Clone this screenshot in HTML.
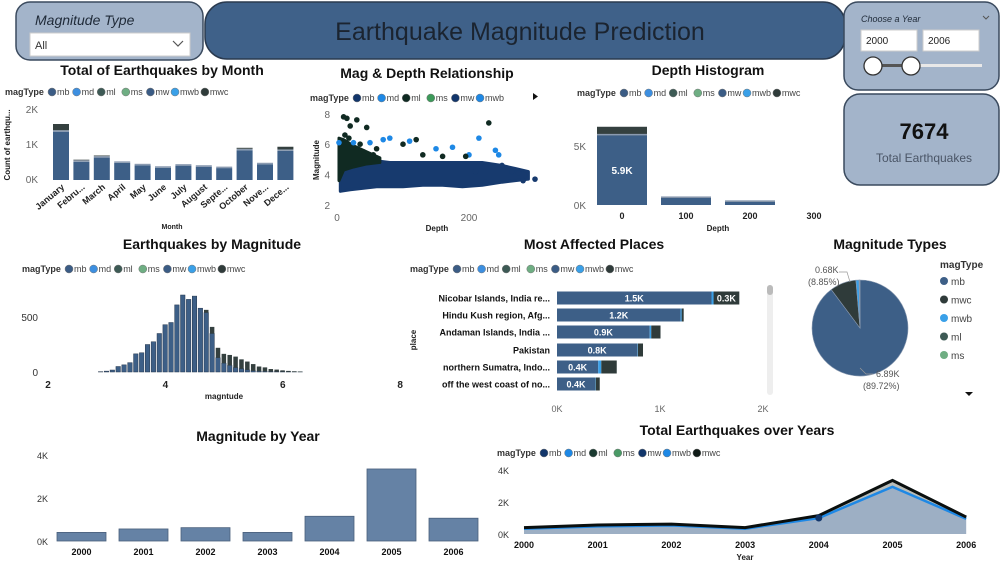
<!DOCTYPE html>
<html><head><meta charset="utf-8"><style>
html,body{margin:0;padding:0;background:#fff;}
svg{display:block;font-family:"Liberation Sans",sans-serif;}
</style></head><body>
<svg id="s" width="1000" height="563" viewBox="0 0 1000 563" xmlns="http://www.w3.org/2000/svg">
<rect x="0" y="0" width="1000" height="563" fill="#fff"/>
<g>
<rect x="16" y="2" width="187" height="58" rx="14" fill="#a3b4ca" stroke="#3a4a5e" stroke-width="1.5"/>
<text x="35" y="25" font-size="14" font-style="italic" fill="#1f2a38">Magnitude Type</text>
<rect x="30" y="33" width="160" height="23" fill="#fff" stroke="#ccc"/>
<text x="35" y="49" font-size="11" fill="#333">All</text>
<path d="M173 41 l5 5 l5 -5" fill="none" stroke="#555" stroke-width="1.2"/>
</g>
<g>
<rect x="205" y="2" width="640" height="57" rx="22" fill="#3f6189" stroke="#2a3a4f" stroke-width="1.5"/>
<text x="520" y="40" font-size="25" text-anchor="middle" fill="#1b2430">Earthquake Magnitude Prediction</text>
</g>
<g>
<rect x="844" y="2" width="155" height="88" rx="14" fill="#a3b4ca" stroke="#3a4a5e" stroke-width="1.5"/>
<text x="861" y="22" font-size="9" font-style="italic" fill="#1f2a38">Choose a Year</text>
<path d="M983 16 l3 3 l3 -3" fill="none" stroke="#555"/>
<rect x="861" y="30" width="56" height="21" fill="#fff" stroke="#ccc"/>
<text x="866" y="44" font-size="10" fill="#222">2000</text>
<rect x="923" y="30" width="56" height="21" fill="#fff" stroke="#ccc"/>
<text x="928" y="44" font-size="10" fill="#222">2006</text>
<rect x="872" y="64" width="110" height="3" fill="#e8e8e8"/>
<rect x="872" y="64" width="40" height="3" fill="#555"/>
<circle cx="873" cy="66" r="9" fill="#fff" stroke="#333" stroke-width="1.3"/>
<circle cx="911" cy="66" r="9" fill="#fff" stroke="#333" stroke-width="1.3"/>
</g>
<g>
<rect x="844" y="94" width="155" height="91" rx="16" fill="#a3b4ca" stroke="#3a4a5e" stroke-width="1.5"/>
<text x="924" y="139" font-size="22" font-weight="bold" text-anchor="middle" fill="#111">7674</text>
<text x="924" y="162" font-size="12" text-anchor="middle" fill="#4a5566">Total Earthquakes</text>
</g>
<g id="charts"></g>
</svg>
<script>
// ===== data =====
const legendTypes = ["mb","md","ml","ms","mw","mwb","mwc"];
const legendColors = ["#3b5c85","#3d8fe0","#3d5a55","#6fae83","#3b5c85","#3aa0e8","#2f3b3a"];
const months = ["January","Febru...","March","April","May","June","July","August","Septe...","October","Nove...","Dece..."];
const monthMb = [1380,520,640,490,420,350,410,380,340,850,450,830];
const monthMwc = [220,60,60,40,30,40,40,30,20,70,20,120];
const scDepth = [10,15,20,30,45,60,50,70,80,100,110,120,130,25,35,150,160,175,230,40,55,240,200,245,210,215,195,250,265,282,300,275,225,12,18,3];
const scMag = [7.8,7.7,7.2,7.6,7.1,5.7,6.1,6.3,6.4,6.0,6.2,6.3,5.3,6.1,6.0,5.7,5.2,5.8,7.4,5.5,5.3,5.6,5.3,5.3,4.2,6.4,5.2,4.6,4.2,3.6,3.7,4.1,3.5,6.6,6.4,6.1];
const scType = ["ml","ml","ml","ml","ml","ml","mwb","mwb","mwb","ml","mwb","ml","ml","mwb","ml","mwb","ml","mwb","ml","ml","ml","mwb","mwb","mwb","mb","mwb","ml","mb","mb","mb","mb","mb","mb","ml","ml","mwb"];
const cloudDepth = [5,20,40,60,80,100,130,160,190,220,250,270,290];
const cloudLow = [2.9,3.0,3.1,3.2,3.2,3.2,3.3,3.3,3.2,3.3,3.5,3.6,3.7];
const cloudHigh = [5.0,4.9,4.9,4.9,4.8,4.8,4.8,4.8,4.8,4.8,4.6,4.4,4.2];
const mlDepth = [3,10,25,45,65];
const mlLow = [3.6,4.3,4.5,4.7,4.8];
const mlHigh = [6.4,6.3,5.9,5.5,5.1];
const depthCats = [0,100,200];
const depthMb = [5900,600,270];
const depthOther = [730,40,20];
const magBins = [2.9,3.0,3.1,3.2,3.3,3.4,3.5,3.6,3.7,3.8,3.9,4.0,4.1,4.2,4.3,4.4,4.5,4.6,4.7,4.8,4.9,5.0,5.1,5.2,5.3,5.4,5.5,5.6,5.7,5.8,5.9,6.0,6.1,6.2,6.3];
const magMb = [3,8,18,50,65,85,165,175,250,275,350,430,450,610,700,660,690,580,540,350,130,80,60,40,30,20,12,8,6,5,4,3,2,1,1];
const magOther = [0,0,0,0,0,0,0,0,0,0,0,0,0,0,0,0,0,0,25,60,90,85,95,100,85,75,60,42,36,22,18,12,8,6,4];
const places = ["Nicobar Islands, India re...","Hindu Kush region, Afg...","Andaman Islands, India ...","Pakistan","northern Sumatra, Indo...","off the west coast of no..."];
const placeMb = [1500,1200,900,780,400,370];
const placeMwb = [20,10,15,5,30,5];
const placeMwc = [250,20,90,50,150,40];
const placeLabels = ["1.5K","1.2K","0.9K","0.8K","0.4K","0.4K"];
const pieTypes = ["mb","mwc","mwb","ml","ms"];
const pieValues = [6890,680,80,15,9];
const pieColors = ["#3d5f87","#2f3b3a","#3aa0e8","#3d5a55","#6fae83"];
const years = [2000,2001,2002,2003,2004,2005,2006];
const yearTotals = [400,560,620,400,1150,3350,1060];
const yearMb = [330,480,540,330,1000,2950,950];

// ===== helpers =====
const NS="http://www.w3.org/2000/svg";
const root=document.getElementById('charts');
function el(tag,attrs,parent,txt){const e=document.createElementNS(NS,tag);for(const k in attrs)e.setAttribute(k,attrs[k]);if(txt!==undefined)e.textContent=txt;(parent||root).appendChild(e);return e;}
function group(name){const g=el('g',{});return g;}
function title(g,x,y,t){const e=el('text',{x:x,y:y,'font-size':14,'font-weight':'bold','text-anchor':'middle',fill:'#111'},g,t);}
function txt(g,x,y,t,o){const a=Object.assign({x:x,y:y,'font-size':9,fill:'#333'},o||{});return el('text',a,g,t);}
function legend(g,x,y,types,colors,fs){const lg=el('g',{},g);
 txt(lg,x,y,'magType',{'font-weight':'bold','font-size':fs||9,fill:'#333'});let cx=x+(fs?46:43);
 types.forEach((t,i)=>{const c=el('circle',{cx:cx+4,cy:y-3,r:4,fill:colors[i],stroke:'#777','stroke-width':0.5},lg);
 txt(lg,cx+9,y,t,{'font-size':fs||9,fill:'#444'});cx+=14+t.length*5.3;});}

// ===== Month chart =====
(function(){const g=group('earthquakes-by-month-chart');title(g,162,75,'Total of Earthquakes by Month');legend(g,5,95,legendTypes,legendColors);
 const y0=180,k=35/1000,x0=53,step=20.4,bw=16;
 [[0,'0K'],[1000,'1K'],[2000,'2K']].forEach(t=>txt(g,38,y0-t[0]*k+3,t[1],{'text-anchor':'end','font-size':10,fill:'#666'}));
 txt(g,10,145,'Count of earthqu...',{transform:'rotate(-90 10 145)','text-anchor':'middle','font-size':8,'font-weight':'bold',fill:'#222'});
 months.forEach((m,i)=>{const x=x0+i*step;const h1=monthMb[i]*k,h2=monthMwc[i]*k;
  const b=el('rect',{x:x,y:y0-h1,width:bw,height:h1,fill:'#3d5f87'},g);
  el('rect',{x:x,y:y0-h1-1.5,width:bw,height:1.5,fill:'#8a9ab0'},g);
  el('rect',{x:x,y:y0-h1-h2,width:bw,height:h2-1.5,fill:'#34403f'},g);
  const cx=x+bw/2+4,cy=y0+8;txt(g,cx,cy,m,{'text-anchor':'end','font-size':9,'font-weight':'bold',fill:'#222',transform:'rotate(-40 '+cx+' '+cy+')'});});
 txt(g,172,229,'Month',{'text-anchor':'middle','font-size':7,'font-weight':'bold',fill:'#222'});})();

// ===== Scatter =====
(function(){const g=group('mag-depth-scatter');title(g,427,78,'Mag & Depth Relationship');
 legend(g,310,101,["mb","md","ml","ms","mw","mwb"],["#12366b","#1e88e5","#0f2a22","#3d9a5a","#12366b","#1e88e5"]);
 el('path',{d:'M533 93 l5 3.5 l-5 3.5z',fill:'#111'},g);
 const X=d=>337+d*0.66,Y=m=>205-(m-2)*15.2;
 [2,4,6,8].forEach(v=>txt(g,330,Y(v)+4,String(v),{'text-anchor':'end','font-size':10,fill:'#666'}));
 [0,200].forEach(v=>txt(g,X(v),221,String(v),{'text-anchor':'middle','font-size':10,fill:'#666'}));
 txt(g,319,160,'Magnitude',{transform:'rotate(-90 319 160)','text-anchor':'middle','font-size':8,'font-weight':'bold',fill:'#222'});
 txt(g,437,231,'Depth',{'text-anchor':'middle','font-size':8,'font-weight':'bold',fill:'#222'});
 function band(dArr,lo,hi,col,name){let p='';dArr.forEach((d,i)=>p+=(i?'L':'M')+X(d)+' '+Y(hi[i]));for(let i=dArr.length-1;i>=0;i--)p+='L'+X(dArr[i])+' '+Y(lo[i]);
  const e=el('path',{d:p+'Z',fill:col,stroke:col,'stroke-width':3,'stroke-linejoin':'round'},g);}
 band(cloudDepth,cloudLow,cloudHigh,'#173a6e','mb-point-cloud');
 band(mlDepth,mlLow,mlHigh,'#102a22','ml-point-cloud');
 const cm={ml:'#102a22',mwb:'#1e88e5',mb:'#173a6e'};
 scDepth.forEach((d,i)=>{const c=el('circle',{cx:X(d),cy:Y(scMag[i]),r:2.8,fill:cm[scType[i]]},g);});})();

// ===== Depth histogram =====
(function(){const g=group('depth-histogram');title(g,708,75,'Depth Histogram');legend(g,577,96,legendTypes,legendColors);
 const y0=205,k=11.8/1000,X=d=>622+d*0.64,bw=50;
 [[0,'0K'],[5000,'5K']].forEach(t=>txt(g,586,y0-t[0]*k+4,t[1],{'text-anchor':'end','font-size':10,fill:'#666'}));
 [0,100,200,300].forEach(v=>txt(g,X(v),219,String(v),{'text-anchor':'middle','font-size':9,'font-weight':'bold',fill:'#222'}));
 txt(g,718,231,'Depth',{'text-anchor':'middle','font-size':8,'font-weight':'bold',fill:'#222'});
 depthCats.forEach((d,i)=>{const x=X(d)-25,h1=depthMb[i]*k,h2=depthOther[i]*k;
  const b=el('rect',{x:x,y:y0-h1,width:bw,height:h1,fill:'#3d5f87'},g);
  el('rect',{x:x,y:y0-h1-h2,width:bw,height:h2,fill:'#34403f'},g);el('rect',{x:x,y:y0-h1-1.5,width:bw,height:1.5,fill:'#8a9ab0'},g);});
 txt(g,X(0),y0-depthMb[0]*k/2+4,(depthMb[0]/1000).toFixed(1)+'K',{'text-anchor':'middle','font-size':10,'font-weight':'bold',fill:'#fff'});})();

// ===== Magnitude histogram =====
(function(){const g=group('earthquakes-by-magnitude-chart');title(g,212,249,'Earthquakes by Magnitude');legend(g,22,272,legendTypes,legendColors);
 const y0=372,k=55/500,X=m=>48+(m-2)*58.7;
 [[0,'0'],[500,'500']].forEach(t=>txt(g,38,y0-t[0]*k+4,t[1],{'text-anchor':'end','font-size':10,fill:'#333'}));
 [2,4,6,8].forEach(v=>txt(g,X(v),388,String(v),{'text-anchor':'middle','font-size':10,'font-weight':'bold',fill:'#222'}));
 txt(g,224,399,'magntude',{'text-anchor':'middle','font-size':8,'font-weight':'bold',fill:'#222'});
 magBins.forEach((m,i)=>{const x=X(m)-2.5,h1=magMb[i]*k,h2=magOther[i]*k;
  const b=el('rect',{x:x,y:y0-h1,width:4.5,height:h1,fill:'#3d5f87',stroke:'#27384e','stroke-width':0.5},g);
  if(h2>0)el('rect',{x:x,y:y0-h1-h2,width:4.5,height:h2,fill:'#34403f'},g);});})();

// ===== Places =====
(function(){const g=group('most-affected-places-chart');title(g,594,249,'Most Affected Places');legend(g,410,272,legendTypes,legendColors);
 const x0=557,k=103/1000,rowY=[298,315,332,350,367,384];
 [[0,'0K'],[1000,'1K'],[2000,'2K']].forEach(t=>txt(g,x0+t[0]*k,412,t[1],{'text-anchor':'middle','font-size':9,fill:'#666'}));
 txt(g,416,340,'place',{transform:'rotate(-90 416 340)','text-anchor':'middle','font-size':8,'font-weight':'bold',fill:'#222'});
 el('rect',{x:767,y:285,width:6,height:110,rx:3,fill:'#eee'},g);el('rect',{x:767,y:285,width:6,height:10,rx:3,fill:'#bbb'},g);
 places.forEach((p,i)=>{const y=rowY[i]-6.5,w1=placeMb[i]*k,w2=placeMwb[i]*k,w3=placeMwc[i]*k;
  txt(g,550,rowY[i]+3.5,p,{'text-anchor':'end','font-size':9,'font-weight':'bold',fill:'#111'});
  const b=el('rect',{x:x0,y:y,width:w1,height:13,fill:'#3d5f87'},g);
  el('rect',{x:x0+w1,y:y,width:w2,height:13,fill:'#3aa0e8'},g);el('rect',{x:x0+w1+w2,y:y,width:w3,height:13,fill:'#2f3b3a'},g);
  txt(g,x0+w1/2,rowY[i]+3.5,placeLabels[i],{'text-anchor':'middle','font-size':9,'font-weight':'bold',fill:'#fff'});
  if(placeMwc[i]>=200)txt(g,x0+w1+w2+w3/2,rowY[i]+3.5,(placeMwc[i]/1000).toFixed(1)+'K',{'text-anchor':'middle','font-size':9,'font-weight':'bold',fill:'#fff'});});})();

// ===== Pie =====
(function(){const g=group('magnitude-types-pie');title(g,890,249,'Magnitude Types');
 const cx=860,cy=328,r=48,tot=pieValues.reduce((a,b)=>a+b,0);let a=0;
 pieValues.forEach((v,i)=>{const a2=a+v/tot*2*Math.PI;const p1=[cx+r*Math.sin(a),cy-r*Math.cos(a)],p2=[cx+r*Math.sin(a2),cy-r*Math.cos(a2)];
  const s=el('path',{d:`M${cx} ${cy}L${p1[0]} ${p1[1]}A${r} ${r} 0 ${a2-a>Math.PI?1:0} 1 ${p2[0]} ${p2[1]}Z`,fill:pieColors[i],stroke:'#8a9ab0','stroke-width':0.6},g);
  a=a2;});
 txt(g,815,273,'0.68K',{'font-size':9,fill:'#555'});txt(g,808,285,'(8.85%)',{'font-size':9,fill:'#555'});
 el('path',{d:'M839 272 L847 272 L850 282',fill:'none',stroke:'#999','stroke-width':0.7},g);
 txt(g,876,377,'6.89K',{'font-size':9,fill:'#555'});txt(g,863,389,'(89.72%)',{'font-size':9,fill:'#555'});
 el('path',{d:'M873 374 L866 374 L860 368',fill:'none',stroke:'#999','stroke-width':0.7},g);
 const lg=el('g',{},g);
 txt(lg,940,268,'magType',{'font-weight':'bold','font-size':10,fill:'#333'});
 pieTypes.forEach((t,i)=>{const y=284+i*18.5;el('circle',{cx:944,cy:y-3,r:4,fill:pieColors[i]},lg);txt(lg,951,y+1,t,{'font-size':10,fill:'#444'});});
 el('path',{d:'M965 392 l4 4 l4 -4z',fill:'#111'},g);})();

// ===== Magnitude by year =====
(function(){const g=group('magnitude-by-year-chart');title(g,258,441,'Magnitude by Year');
 const y0=541,k=21.5/1000,X=i=>81.5+i*62;
 [[0,'0K'],[2000,'2K'],[4000,'4K']].forEach(t=>txt(g,48,y0-t[0]*k+4,t[1],{'text-anchor':'end','font-size':9,fill:'#333'}));
 years.forEach((yr,i)=>{const h=yearTotals[i]*k;const b=el('rect',{x:X(i)-24.5,y:y0-h,width:49,height:h,fill:'#6582a5',stroke:'#4a607c','stroke-width':0.8},g);
  
  txt(g,X(i),555,String(yr),{'text-anchor':'middle','font-size':9,'font-weight':'bold',fill:'#111'});});})();

// ===== Total over years =====
(function(){const g=group('total-earthquakes-over-years-chart');title(g,737,435,'Total Earthquakes over Years');
 legend(g,497,456,legendTypes,["#12366b","#1e88e5","#1a3a30","#4a9a66","#12366b","#1e88e5","#0f1a16"]);
 const y0=534,k=16/1000,X=i=>524+i*73.7;
 [[0,'0K'],[2000,'2K'],[4000,'4K']].forEach(t=>txt(g,509,y0-t[0]*k+4,t[1],{'text-anchor':'end','font-size':9,fill:'#333'}));
 let area=`M${X(0)} ${y0}`;yearMb.forEach((v,i)=>area+=`L${X(i)} ${y0-v*k}`);area+=`L${X(6)} ${y0}Z`;
 const ar=el('path',{d:area,fill:'#9dafc4'},g);
 let area2=`M${X(0)} ${y0-yearMb[0]*k}`;yearTotals.forEach((v,i)=>area2+=`L${X(i)} ${y0-v*k}`);for(let i=6;i>=0;i--)area2+=`L${X(i)} ${y0-yearMb[i]*k}`;
 el('path',{d:area2+'Z',fill:'#b9bdb9'},g);
 const line=(arr,off,col,w,name)=>{let d='';arr.forEach((v,i)=>d+=(i?'L':'M')+X(i)+' '+(y0-v*k-off));const e=el('path',{d:d,fill:'none',stroke:col,'stroke-width':w},g);};
 line(yearMb,0,'#1e88e5',2.5,'mwb-line');
 line(yearTotals,0,'#0a0f0e',3,'mwc-line');
 el('circle',{cx:X(4),cy:y0-yearMb[4]*k,r:3.5,fill:'#12366b'},g);
 years.forEach((yr,i)=>txt(g,X(i),548,String(yr),{'text-anchor':'middle','font-size':9,'font-weight':'bold',fill:'#111'}));
 txt(g,745,560,'Year',{'text-anchor':'middle','font-size':8,'font-weight':'bold',fill:'#222'});})();
</script>
</body></html>
